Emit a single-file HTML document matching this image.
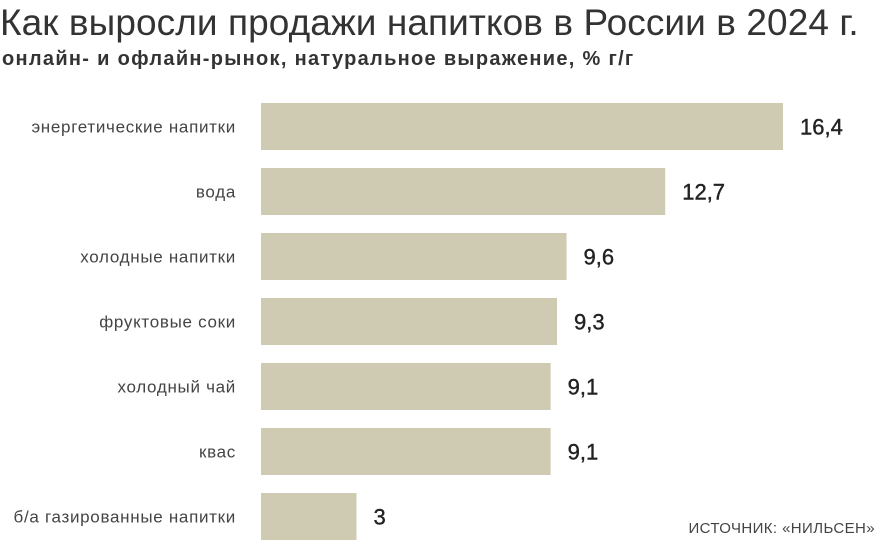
<!DOCTYPE html>
<html><head><meta charset="utf-8"><style>
body{margin:0;background:#fff;width:881px;height:548px;overflow:hidden;font-family:"Liberation Sans","DejaVu Sans",sans-serif;}
#title{position:absolute;left:0;top:2px;font-size:37px;color:#333;white-space:nowrap;letter-spacing:0.08px;font-weight:300}
#sub{position:absolute;left:2px;top:48px;font-size:20px;font-weight:bold;color:#333;white-space:nowrap;letter-spacing:1.3px}
#src{position:absolute;right:6px;top:520px;font-size:15px;color:#444;white-space:nowrap;letter-spacing:0.4px}
svg{position:absolute;left:0;top:0}
</style></head><body>
<div id="title">Как выросли продажи напитков в России в 2024 г.</div>
<div id="sub">онлайн- и офлайн-рынок, натуральное выражение, % г/г</div>
<svg id="chart" width="881" height="548"></svg>
<div id="src">ИСТОЧНИК: «НИЛЬСЕН»</div>
<script>
const categories=["энергетические напитки","вода","холодные напитки","фруктовые соки","холодный чай","квас","б/а газированные напитки"];
const values=[16.4,12.7,9.6,9.3,9.1,9.1,3];
const valueLabels=["16,4","12,7","9,6","9,3","9,1","9,1","3"];
const svg=document.getElementById('chart');
const NS='http://www.w3.org/2000/svg';
const x0=261,pxPer=522/16.4;
function xScale(v){return x0+v*pxPer;}
function yScale(i){return 103+i*65;}
const bh=47;
categories.forEach((c,i)=>{
  const y=yScale(i);
  const r=document.createElementNS(NS,'rect');
  r.setAttribute('x',x0);r.setAttribute('y',y);
  r.setAttribute('width',xScale(values[i])-x0);r.setAttribute('height',bh);
  r.setAttribute('fill','#cfcbb3');
  
  
  svg.appendChild(r);
  const t=document.createElementNS(NS,'text');
  t.setAttribute('x',236);t.setAttribute('y',y+bh/2+6);
  t.setAttribute('text-anchor','end');t.setAttribute('font-size','17');t.setAttribute('fill','#444');
  t.setAttribute('letter-spacing','0.7');
  t.textContent=c;
  
  
  svg.appendChild(t);
  const v=document.createElementNS(NS,'text');
  v.setAttribute('x',xScale(values[i])+17);v.setAttribute('y',y+bh/2+8);
  v.setAttribute('font-size','22');v.setAttribute('fill','#222');
  v.setAttribute('stroke','#222');v.setAttribute('stroke-width','0.4');
  v.textContent=valueLabels[i];
  
  
  svg.appendChild(v);
});
</script>
</body></html>
